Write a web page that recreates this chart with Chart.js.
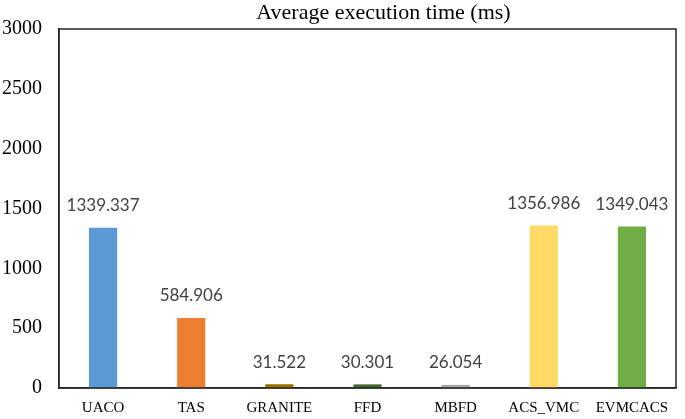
<!DOCTYPE html>
<html>
<head>
<meta charset="utf-8">
<script src="https://cdn.jsdelivr.net/npm/chart.js@4/dist/chart.umd.min.js"></script>
<style>
  html, body { margin: 0; padding: 0; background: #ffffff; }
  #wrap { width: 685px; height: 419px; position: relative; }
</style>
</head>
<body>
<div id="wrap"><canvas id="c" width="685" height="419"></canvas></div>
<script>
const categories = ['UACO', 'TAS', 'GRANITE', 'FFD', 'MBFD', 'ACS_VMC', 'EVMCACS'];
const values = [1339.337, 584.906, 31.522, 30.301, 26.054, 1356.986, 1349.043];
const valueLabels = ['1339.337', '584.906', '31.522', '30.301', '26.054', '1356.986', '1349.043'];
const barColors = ['#5B9BD5', '#ED7D31', '#997300', '#43682B', '#A5A5A5', '#FFD966', '#70AD47'];
const yTicks = [0, 500, 1000, 1500, 2000, 2500, 3000];
const titleText = 'Average execution time (ms)';

const boxPlugin = {
  id: 'boxAndLabels',
  afterDatasetsDraw(chart) {
    const ctx = chart.ctx;
    const a = chart.chartArea;
    ctx.save();
    ctx.strokeStyle = '#262626';
    ctx.lineWidth = 1.5;
    ctx.strokeRect(a.left, a.top, a.right - a.left, a.bottom - a.top);
    // data labels
    const meta = chart.getDatasetMeta(0);
    ctx.fillStyle = '#404040';
    ctx.font = '17px Lato, "Open Sans", sans-serif';
    ctx.textAlign = 'center';
    ctx.textBaseline = 'middle';
    meta.data.forEach((bar, i) => {
      ctx.fillText(valueLabels[i], bar.x, bar.y - 22);
    });
    // title
    ctx.fillStyle = '#000000';
    ctx.font = '22px "Liberation Serif", "Times New Roman", serif';
    ctx.textBaseline = 'middle';
    ctx.fillText(titleText, (a.left + a.right) / 2 + 16, 13);
    ctx.restore();
  }
};

new Chart(document.getElementById('c'), {
  type: 'bar',
  data: {
    labels: categories,
    datasets: [{
      data: values,
      backgroundColor: barColors,
      borderWidth: 0,
      barPercentage: 0.5,
      categoryPercentage: 0.64
    }]
  },
  options: {
    responsive: false,
    animation: false,
    devicePixelRatio: 1,
    layout: { padding: { top: 28, right: 9, left: 0, bottom: 0 } },
    plugins: {
      legend: { display: false },
      title: { display: false },
      tooltip: { enabled: false }
    },
    scales: {
      x: {
        grid: { display: false, drawTicks: false },
        border: { display: true, color: '#262626', width: 1.5 },
        ticks: {
          color: '#000000',
          font: { family: '"Liberation Serif", "Times New Roman", serif', size: 15 },
          padding: 11,
          maxRotation: 0,
          autoSkip: false
        },
        afterFit(scale) { scale.height = 31; }
      },
      y: {
        min: 0,
        max: 3000,
        afterBuildTicks(scale) { scale.ticks = yTicks.map(v => ({ value: v })); },
        grid: { display: false, drawTicks: false },
        border: { display: true, color: '#262626', width: 1.5 },
        ticks: {
          color: '#000000',
          font: { family: '"Liberation Serif", "Times New Roman", serif', size: 20 },
          padding: 17,
          callback: (v) => String(v)
        },
        afterFit(scale) { scale.width = 59; }
      }
    }
  },
  plugins: [boxPlugin]
});
</script>
</body>
</html>
